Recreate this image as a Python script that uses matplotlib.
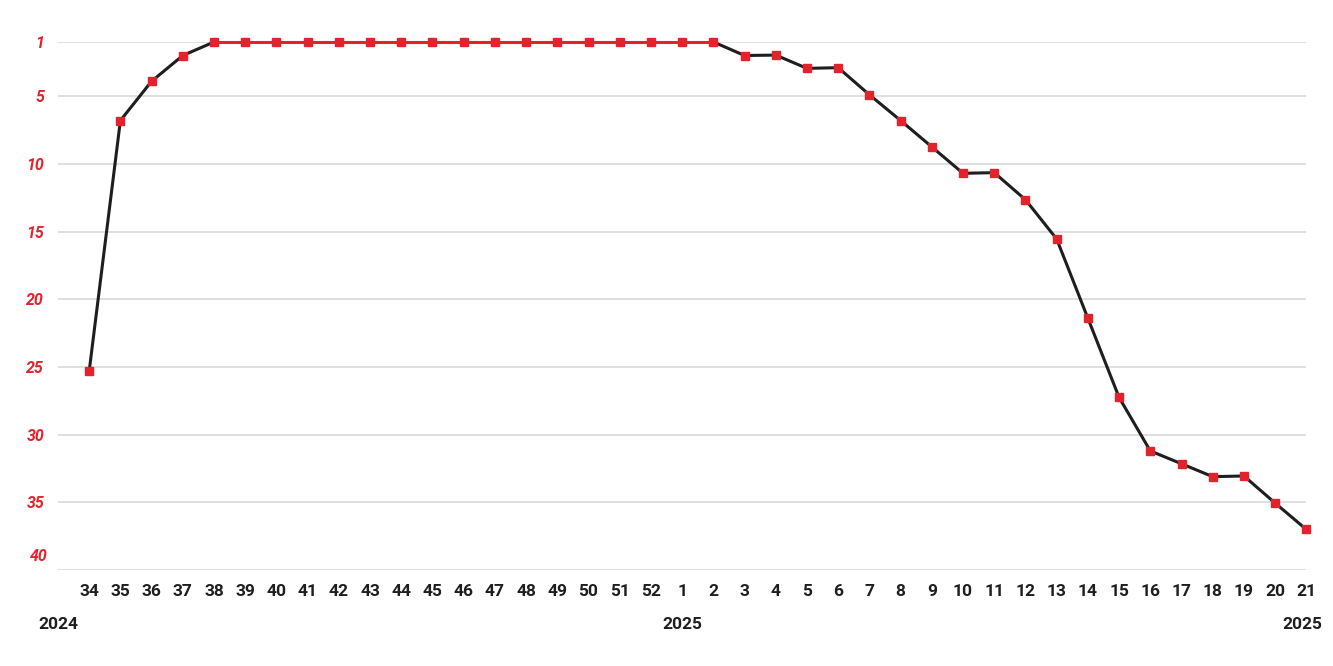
import numpy as np
import matplotlib.pyplot as plt
import matplotlib.transforms as mtransforms

# week labels and chart rank per week
weeks = [str(w) for w in range(34, 53)] + [str(w) for w in range(1, 22)]
ranks = [25.3, 6.8, 3.9, 2.0, 1, 1, 1, 1, 1, 1, 1, 1, 1, 1, 1, 1, 1, 1, 1,
         1, 1, 2.0, 1.97, 2.95, 2.9, 4.9, 6.8, 8.75, 10.7, 10.65, 12.65,
         15.55, 21.4, 27.25, 31.2, 32.15, 33.1, 33.05, 35.05, 37.0]
year_labels = ['2024', '2025', '2025']
year_pos = [-1, 19, 39]
ytick_vals = [1, 5, 10, 15, 20, 25, 30, 35, 40]

RED = '#e3232b'
BLACK = '#1e1e1e'

plt.rcParams['font.family'] = ['Roboto', 'DejaVu Sans']

fig = plt.figure(figsize=(13.33, 6.66), dpi=100)
ax = fig.add_axes([0.0435, 0.144, 0.9365, 0.793])

x = np.arange(len(ranks))
r = np.array(ranks, dtype=float)

# black line outside the #1 run, red line on it
idx = np.where(r == 1)[0]
a, b = idx[0], idx[-1]
ax.plot(x[:a + 1], r[:a + 1], color=BLACK, lw=2.2, zorder=3, clip_on=False)
ax.plot(x[b:], r[b:], color=BLACK, lw=2.2, zorder=3, clip_on=False)
ax.plot(x[a:b + 1], r[a:b + 1], color=RED, lw=2.2, zorder=4, clip_on=False)
ax.plot(x, r, ls='none', marker='s', ms=5.5, color=RED, zorder=5, clip_on=False)

ax.set_xlim(-1, len(ranks) - 1)
ax.set_ylim(40, 1)

ylab_style = dict(color=RED, fontsize=11.5, fontweight='bold', fontstyle='italic')
ax.set_yticks(ytick_vals)
ax.set_yticklabels([str(v) for v in ytick_vals[:-1]] + [''], **ylab_style)
# the last label sits a little above its line
ax.text(-10 / 1248, ytick_vals[-1], str(ytick_vals[-1]), ha='right', va='center',
        transform=ax.get_yaxis_transform() + mtransforms.ScaledTranslation(0, 0.14, fig.dpi_scale_trans),
        **ylab_style)

ax.set_xticks(x)
ax.set_xticklabels(weeks, fontsize=12.5, fontweight='bold', color=BLACK)
ax.tick_params(axis='both', length=0)
ax.tick_params(axis='y', pad=10)
ax.tick_params(axis='x', pad=10)

ax.grid(axis='y', color='#dcdcdc', lw=1.3)
ax.set_axisbelow(True)
for s in ax.spines.values():
    s.set_visible(False)

year_tr = ax.get_xaxis_transform() + mtransforms.ScaledTranslation(0, -0.54, fig.dpi_scale_trans)
for lbl, p in zip(year_labels, year_pos):
    if p == year_pos[-1]:
        ax.text(p + 0.5, 0, lbl, transform=year_tr, fontsize=12.5, fontweight='bold',
                color=BLACK, ha='right', va='center')
    else:
        ax.text(p, 0, lbl, transform=year_tr, fontsize=12.5, fontweight='bold',
                color=BLACK, ha='center', va='center')

fig.savefig('out.png', dpi=100)
